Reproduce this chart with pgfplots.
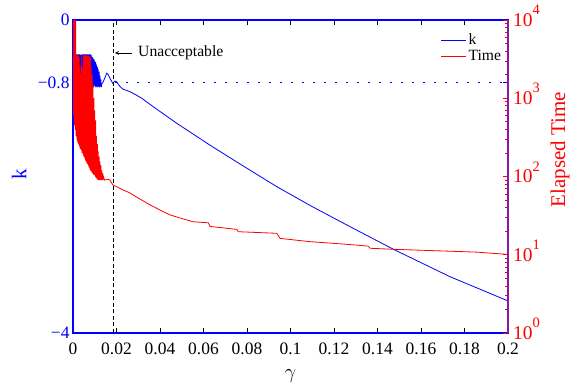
\documentclass[border=0pt]{standalone}
\usepackage{fontspec}
\setmainfont{Liberation Serif}
\usepackage{pgfplots}
\pgfplotsset{compat=1.18}
\definecolor{kblue}{rgb}{0,0,1}
\definecolor{tred}{rgb}{1,0,0}
\definecolor{spinepurple}{rgb}{0.55,0.1,0.65}
\newcommand{\tickfont}{\fontsize{17.5}{20}\selectfont}
\newcommand{\rtickfont}{\fontsize{19.5}{22}\selectfont}
\newcommand{\labfont}{\fontsize{21}{24}\selectfont}
\newcommand{\legfont}{\fontsize{15.7}{19}\selectfont}
\newcommand{\pw}[1]{10\smash{\raisebox{0.6em}{\fontsize{14.5}{16}\selectfont #1}}}
\begin{document}
\begin{tikzpicture}
\useasboundingbox (-73bp,-54bp) rectangle (501bp,333bp);
\begin{axis}[
  scale only axis, width=435bp, height=313bp,
  xmin=0, xmax=0.2, ymin=-4, ymax=0,
  xtick={0,0.02,0.04,0.06,0.08,0.1,0.12,0.14,0.16,0.18,0.2},
  xticklabels={0,0.02,0.04,0.06,0.08,0.1,0.12,0.14,0.16,0.18,0.2},
  ytick={-4,-0.8,0}, yticklabels={−4,−0.8,0},
  tick align=inside, major tick length=5bp,
  y axis line style={kblue, line width=1.3bp},
  x axis line style={black, line width=0.7bp},
  ytick style={kblue, line width=0.7bp},
  xtick style={black, line width=0.7bp},
  yticklabel style={text=kblue, font=\tickfont},
  xticklabel style={font=\tickfont, inner sep=0pt, yshift=-10bp},
  xlabel={$\gamma$}, ylabel={k},
  every axis x label/.style={at={(axis description cs:0.5,-0.137)}, anchor=center, font=\labfont},
  every axis y label/.style={at={(axis description cs:-0.124,0.508)}, anchor=center, rotate=90, font=\labfont, text=kblue},
]
\addplot[kblue, line width=0.8bp] coordinates {
(0,-4) (0,-0.44) (0.0002,-0.85) (0.0004,-0.44) (0.0006,-0.84) (0.0008,-0.44) (0.001,-0.85) (0.0012,-0.44) (0.0014,-0.83) (0.0016,-0.44) (0.0018,-0.85) (0.002,-0.44) (0.0022,-0.86) (0.0024,-0.44) (0.0026,-0.84) (0.0028,-0.44) (0.003,-0.85) (0.0032,-0.44) (0.0034,-0.83) (0.0036,-0.45) (0.0038,-0.85) (0.004,-0.44) (0.0042,-0.86) (0.0044,-0.44) (0.0046,-0.84) (0.0048,-0.44) (0.005,-0.85) (0.0052,-0.44) (0.0054,-0.83) (0.0056,-0.44) (0.0058,-0.85) (0.006,-0.44) (0.0062,-0.86) (0.0064,-0.44) (0.0066,-0.84) (0.0068,-0.44) (0.007,-0.85) (0.0072,-0.44) (0.0074,-0.84) (0.0076,-0.44) (0.0078,-0.85) (0.008,-0.44) (0.0082,-0.86) (0.0084,-0.45) (0.0086,-0.84) (0.0088,-0.47) (0.009,-0.85) (0.0092,-0.48) (0.0094,-0.86) (0.0096,-0.50) (0.0098,-0.84) (0.01,-0.52) (0.0102,-0.85) (0.0104,-0.54) (0.0106,-0.86) (0.0108,-0.57) (0.011,-0.85) (0.0112,-0.60) (0.0114,-0.86) (0.0116,-0.63) (0.0118,-0.85) (0.012,-0.66) (0.0122,-0.86) (0.0124,-0.71) (0.0126,-0.85) (0.0128,-0.76) (0.013,-0.86) (0.0132,-0.82)
(0.0139,-0.79) (0.0155,-0.68) (0.0162,-0.70) (0.0170,-0.745) (0.0183,-0.81) (0.0192,-0.78) (0.0201,-0.79) (0.0216,-0.85) (0.0231,-0.886) (0.0254,-0.907) (0.0277,-0.937) (0.0316,-1.00) (0.0369,-1.108) (0.0477,-1.32) (0.063,-1.60) (0.0783,-1.866) (0.0937,-2.13) (0.109,-2.37) (0.1273,-2.64) (0.1473,-2.93) (0.1733,-3.28) (0.2,-3.59)
};
\addplot[kblue, line width=0.9bp, dash pattern=on 1.2bp off 9.8bp] coordinates {(0.0195,-0.8) (0.2,-0.8)};
\end{axis}
\begin{axis}[
  scale only axis, width=435bp, height=313bp,
  xmin=0, xmax=0.2, ymode=log, ymin=1, ymax=10000,
  axis y line*=right, axis x line=none,
  ytick={1,10,100,1000,10000},
  yticklabels={\pw{0},\pw{1},\pw{2},\pw{3},\pw{4}},
  tick align=inside, major tick length=5bp, minor tick length=3bp,
  ytick style={tred, line width=0.7bp},
  y axis line style={spinepurple, line width=1.3bp},
  yticklabel style={text=tred, font=\rtickfont, inner sep=0pt, xshift=5bp},
  ylabel={Elapsed Time},
  every axis y label/.style={at={(axis description cs:1.1195,0.585)}, anchor=center, rotate=90, font=\labfont, text=tred},
  legend style={font=\legfont, draw=none, fill=none, at={(0.845,0.963)}, anchor=north west, inner sep=0pt, row sep=0pt},
  legend cell align=left,
  legend image code/.code={\draw[#1] (0bp,0bp) -- (25bp,0bp);},
]
\addlegendimage{kblue, line width=0.8bp}
\addlegendentry{k}
\addplot[tred, line width=0.8bp] coordinates {
(0,10000) (0.0002,600) (0.0004,10000) (0.0006,450) (0.0008,10000) (0.001,393) (0.0012,10000) (0.0014,330) (0.0016,3573) (0.0018,290) (0.002,3500) (0.0022,270) (0.0024,3573) (0.0026,255) (0.0028,3400) (0.003,240) (0.0032,2600) (0.0034,225) (0.0036,2100) (0.0038,215) (0.004,3573) (0.0042,200) (0.0044,2400) (0.0046,190) (0.0048,3573) (0.005,180) (0.0052,3450) (0.0054,170) (0.0056,3573) (0.0058,160) (0.006,3500) (0.0062,152) (0.0064,3573) (0.0066,145) (0.0068,3400) (0.007,138) (0.0072,3500) (0.0074,130) (0.0076,3450) (0.0078,122) (0.008,3300) (0.0082,118) (0.0084,2500) (0.0086,113) (0.0088,1995) (0.009,110) (0.0092,1500) (0.0094,106) (0.0096,1000) (0.0098,104) (0.01,700) (0.0102,100) (0.0104,520) (0.0106,96) (0.0108,330) (0.011,93) (0.0112,260) (0.0114,90) (0.0116,210) (0.0118,90) (0.012,180) (0.0122,90) (0.0124,155) (0.0126,90) (0.0128,140) (0.013,90) (0.0132,120) (0.0134,90) (0.0136,110) (0.0138,90) (0.014,100)
(0.0145,90) (0.016,92) (0.017,90) (0.0183,78) (0.0201,74) (0.0231,67) (0.026,62) (0.029,55) (0.0316,50) (0.0354,43.5) (0.0414,35.6) (0.0445,32.4) (0.0492,29.5) (0.0552,26.4) (0.0622,25.6) (0.063,23) (0.0753,21.1) (0.076,19.7) (0.0937,18.8) (0.0952,16.2) (0.1013,15.5) (0.109,14.7) (0.1258,13.6) (0.1356,12.9) (0.1366,12.1) (0.1471,11.75) (0.1856,10.8) (0.2,10.1)
};
\addlegendentry{Time}
\addplot[black, line width=0.8bp, dash pattern=on 4bp off 2.5bp, forget plot] coordinates {(0.0187,1) (0.0187,10000)};
\draw[-stealth, black, line width=0.8bp] (rel axis cs:0.135,0.8946) -- (rel axis cs:0.0965,0.8946);
\node[anchor=west, font=\legfont, inner sep=0pt] at (rel axis cs:0.1495,0.8946) {Unacceptable};
\end{axis}
\end{tikzpicture}
\end{document}
